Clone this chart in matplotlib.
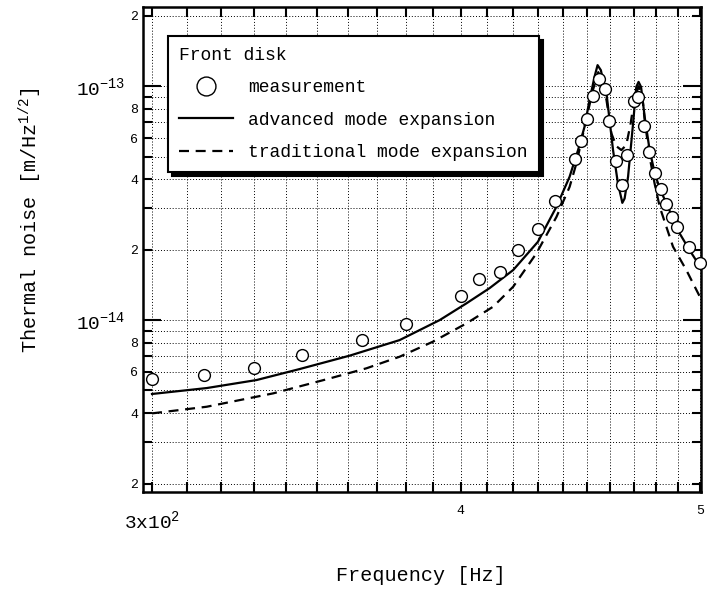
import matplotlib
matplotlib.use('Agg')
import matplotlib.pyplot as plt
from matplotlib.ticker import FixedLocator, FixedFormatter, FuncFormatter, NullFormatter
import numpy as np

plt.rcParams['font.family'] = ['Liberation Mono', 'DejaVu Sans Mono']
plt.rcParams['mathtext.fontset'] = 'custom'
plt.rcParams['mathtext.rm'] = 'Liberation Mono'
plt.rcParams['mathtext.it'] = 'Liberation Mono'
plt.rcParams['mathtext.bf'] = 'Liberation Mono'

# measurement points (Hz, m/Hz^1/2)
meas_f = [300, 315, 330, 345, 365, 380, 400, 407, 415, 422, 430, 437, 445, 447.5,
          450, 452.5, 455, 457.5, 459.5, 462.5, 465, 467, 470, 472, 474.5, 477,
          479.5, 482, 484.5, 487, 489.5, 495, 500]
meas_v = [5.58e-15, 5.84e-15, 6.22e-15, 7.09e-15, 8.21e-15, 9.61e-15, 1.27e-14,
          1.50e-14, 1.60e-14, 1.99e-14, 2.44e-14, 3.24e-14, 4.89e-14, 5.84e-14,
          7.21e-14, 9.09e-14, 1.068e-13, 9.74e-14, 7.07e-14, 4.78e-14, 3.78e-14,
          5.06e-14, 8.65e-14, 8.95e-14, 6.73e-14, 5.24e-14, 4.24e-14, 3.62e-14,
          3.15e-14, 2.75e-14, 2.50e-14, 2.06e-14, 1.76e-14]

# advanced mode expansion (solid)
adv_f = [300, 315.7, 330.7, 344.4, 360.8, 377.9, 392.3, 402.2, 411.0, 420.1,
         429.9, 437.4, 442.8, 446.3, 449.0, 451.1, 453.2, 454.5, 455.9, 457.1,
         458.3, 461.1, 463.2, 464.7, 465.1, 466.1, 467.6, 469.8, 471.2, 472.2,
         473.3, 474.9, 477.1, 479.6, 482.2, 490.6, 495.2, 500.5]
adv_v = [4.83e-15, 5.12e-15, 5.54e-15, 6.18e-15, 7.05e-15, 8.21e-15, 1.0e-14,
         1.179e-14, 1.37e-14, 1.636e-14, 2.16e-14, 3.05e-14, 4.10e-14, 5.33e-14,
         6.70e-14, 8.71e-14, 1.096e-13, 1.23e-13, 1.17e-13, 1.027e-13, 9.31e-14,
         5.33e-14, 3.84e-14, 3.31e-14, 3.17e-14, 3.31e-14, 4.10e-14, 6.93e-14,
         9.93e-14, 1.043e-13, 9.93e-14, 7.39e-14, 5.33e-14, 4.15e-14, 3.55e-14,
         2.35e-14, 1.99e-14, 1.67e-14]

# traditional mode expansion (dashed)
trad_f = [300, 315.7, 335.9, 354.1, 366.4, 377.9, 389.8, 402.2, 412.3, 420.1,
          429.3, 437.4, 442.8, 445.6, 448.4, 450.6, 452.5, 454.8, 456.7, 458.3,
          460.4, 462.5, 464.7, 466.8, 468.6, 470.3, 472.2, 473.8, 474.9, 477.1,
          479.3, 481.6, 487.6, 493.7, 499.8]
trad_v = [3.99e-15, 4.26e-15, 4.86e-15, 5.63e-15, 6.22e-15, 6.97e-15, 8.08e-15,
          9.68e-15, 1.14e-14, 1.388e-14, 1.928e-14, 2.76e-14, 3.71e-14, 4.67e-14,
          6.28e-14, 7.90e-14, 9.6e-14, 1.148e-13, 1.04e-13, 8.71e-14, 6.28e-14,
          5.54e-14, 5.33e-14, 5.60e-14, 6.81e-14, 8.71e-14, 1.0e-13, 9.15e-14,
          7.16e-14, 4.99e-14, 3.84e-14, 3.05e-14, 2.06e-14, 1.636e-14, 1.267e-14]

x_major = [300, 400, 500]
x_major_labels = [r'3x10$^{2}$', '4', '5']
x_minor = [310, 320, 330, 340, 350, 360, 370, 380, 390,
           410, 420, 430, 440, 450, 460, 470, 480, 490]
y_major = [1e-14, 1e-13]
y_minor = [2e-15, 3e-15, 4e-15, 5e-15, 6e-15, 7e-15, 8e-15, 9e-15,
           2e-14, 3e-14, 4e-14, 5e-14, 6e-14, 7e-14, 8e-14, 9e-14, 2e-13]

fig = plt.figure(figsize=(7.07, 5.93), dpi=100)
ax = fig.add_axes([0.2023, 0.1703, 0.7892, 0.8179])
ax.set_xscale('log')
ax.set_yscale('log')

ax.plot(trad_f, trad_v, color='k', lw=1.6, ls=(0, (4.5, 3)), label='traditional mode expansion')
ax.plot(adv_f, adv_v, color='k', lw=1.6, ls='-', label='advanced mode expansion')
ax.plot(meas_f, meas_v, 'o', ms=8.5, mfc='white', mec='k', mew=1.0, ls='none',
        label='measurement', zorder=5, clip_on=False)

ax.set_xlim(297.5, 500.5)
ax.set_ylim(1.84e-15, 2.18e-13)

ax.xaxis.set_major_locator(FixedLocator(x_major))
ax.xaxis.set_major_formatter(FixedFormatter(x_major_labels))
ax.xaxis.set_minor_locator(FixedLocator(x_minor))
ax.xaxis.set_minor_formatter(NullFormatter())

def major_y(v, pos):
    return r'$10^{%d}$' % int(round(np.log10(v)))

def minor_y(v, pos):
    m = int(round(v / 10 ** np.floor(np.log10(v) + 1e-9)))
    return str(m) if m in (2, 4, 6, 8) else ''

ax.yaxis.set_major_locator(FixedLocator(y_major))
ax.yaxis.set_major_formatter(FuncFormatter(major_y))
ax.yaxis.set_minor_locator(FixedLocator(y_minor))
ax.yaxis.set_minor_formatter(FuncFormatter(minor_y))

ax.tick_params(which='both', direction='in', top=True, right=True, width=1.5, color='k')
ax.tick_params(axis='y', which='major', length=13, labelsize=14, pad=13)
ax.tick_params(axis='y', which='minor', length=6.5, labelsize=9.5, pad=3.5)
ax.tick_params(axis='x', which='both', length=7, labelsize=9.5, pad=9)
first = ax.xaxis.get_major_ticks()[0]
first.label1.set_fontsize(14)
first.set_pad(12.5)

ax.grid(True, which='both', color='k', linestyle=(0, (1, 2)), linewidth=0.7)
ax.set_axisbelow(True)
for s in ax.spines.values():
    s.set_linewidth(1.8)

ax.set_xlabel('Frequency [Hz]', fontsize=14.5)
ax.xaxis.set_label_coords(0.498, -0.152)
ax.set_ylabel(r'Thermal noise [m/Hz$^{1/2}$]', fontsize=14.5)
ax.yaxis.set_label_coords(-0.178, 0.56)

h, l = ax.get_legend_handles_labels()
leg = ax.legend([h[2], h[1], h[0]], [l[2], l[1], l[0]], title='Front disk',
                loc='upper left', bbox_to_anchor=(0.0448, 0.940), borderaxespad=0,
                fontsize=13, title_fontsize=13, alignment='left',
                fancybox=False, framealpha=1, edgecolor='k',
                shadow={'ox': 3, 'oy': -3, 'color': 'k', 'alpha': 1},
                borderpad=0.6, labelspacing=0.85, handlelength=3.0,
                handletextpad=0.85, markerscale=1.6)
leg.get_frame().set_linewidth(1.5)

fig.savefig('out.png', dpi=100)
